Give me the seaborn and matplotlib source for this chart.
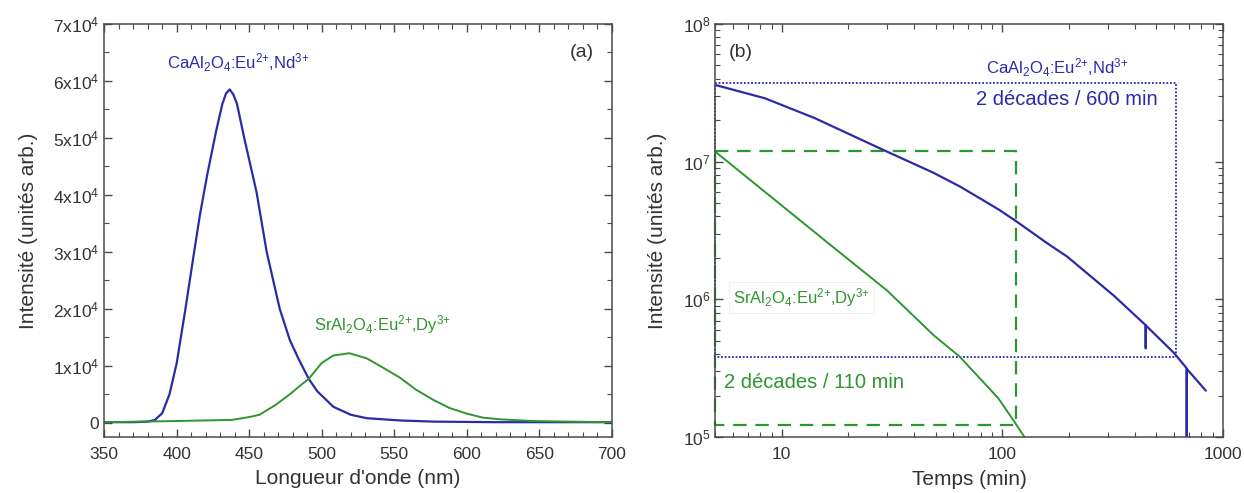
import numpy as np
import pandas as pd
import matplotlib
matplotlib.use("Agg")
import matplotlib.pyplot as plt
import matplotlib.ticker as mticker
import seaborn as sns

# (a) spectres d'émission
wl_ca = [350, 370, 380, 385, 390, 395, 400, 406, 412, 416, 421, 427, 431.5, 434, 436.5, 439, 441.5, 446.5,
         455, 462, 471, 478, 484, 491, 497, 508, 520, 531, 554, 577, 620, 700]
int_ca = [100, 100, 200, 500, 1700, 5000, 10500, 20000, 30000, 36500, 43500, 51000, 56000, 57800, 58500, 57600,
          56000, 50000, 40500, 30000, 20000, 14500, 11200, 7700, 5500, 2800, 1400, 800, 400, 200, 100, 100]
wl_sr = [350, 400, 438, 450, 457, 468, 479, 485, 491, 500, 508, 519, 531, 542, 554, 565,
         577, 588, 600, 611, 623, 646, 669, 700]
int_sr = [100, 300, 500, 1000, 1400, 3100, 5200, 6500, 7700, 10500, 11800, 12200, 11300, 9700, 7900, 5800,
          4000, 2600, 1600, 900, 600, 300, 200, 100]

# (b) déclins de phosphorescence
t_ca = [5, 8.4, 14.1, 28.4, 48.7, 64.4, 96, 115, 160, 197, 321, 446, 447, 448, 601, 685, 686, 687, 837]
dec_ca = [3.6e7, 2.88e7, 2.07e7, 1.23e7, 8.3e6, 6.58e6, 4.5e6, 3.71e6, 2.55e6, 2.04e6, 1.06e6, 6.5e5, 4.4e5,
          6.45e5, 4.07e5, 3.16e5, 5e4, 3.12e5, 2.17e5]
t_sr = [5, 10, 17.4, 30, 49, 64, 96, 115, 126, 130]
dec_sr = [1.18e7, 4.8e6, 2.34e6, 1.16e6, 5.46e5, 3.84e5, 1.91e5, 1.25e5, 1.0e5, 9e4]

# cadres "2 décades"
box_ca_t = [5, 611, 611, 5, 5]
box_ca_i = [3.7e7, 3.7e7, 3.84e5, 3.84e5, 3.7e7]
box_sr_t = [5, 115, 115, 5, 5]
box_sr_i = [1.2e7, 1.2e7, 1.22e5, 1.22e5, 1.2e7]

blue = "#2b2ba8"
green = "#2e962e"
lab_ca = r"CaAl$_2$O$_4$:Eu$^{2{+}}$,Nd$^{3{+}}$"
lab_sr = r"SrAl$_2$O$_4$:Eu$^{2{+}}$,Dy$^{3{+}}$"

sns.set_theme(style="ticks")
plt.rcParams["font.family"] = ["Liberation Sans", "DejaVu Sans"]
plt.rcParams["mathtext.fontset"] = "custom"
plt.rcParams["mathtext.rm"] = "Liberation Sans"
plt.rcParams["mathtext.it"] = "Liberation Sans:italic"
plt.rcParams["mathtext.default"] = "regular"
plt.rcParams["axes.edgecolor"] = "#4a4a4a"
plt.rcParams["axes.linewidth"] = 1.1

fig = plt.figure(figsize=(12.44, 4.93), dpi=100)
ax1 = fig.add_axes([0.0838, 0.1136, 0.408, 0.838])
ax2 = fig.add_axes([0.575, 0.1136, 0.408, 0.838])

df_ca = pd.DataFrame({"wl": wl_ca, "I": int_ca})
df_sr = pd.DataFrame({"wl": wl_sr, "I": int_sr})
sns.lineplot(data=df_ca, x="wl", y="I", color=blue, lw=1.6, sort=False, estimator=None, ax=ax1)
sns.lineplot(data=df_sr, x="wl", y="I", color=green, lw=1.4, sort=False, estimator=None, ax=ax1)
ax1.set_xlim(350, 700)
ax1.set_ylim(-2500, 70000)
ax1.xaxis.set_major_locator(mticker.MultipleLocator(50))
ax1.xaxis.set_minor_locator(mticker.MultipleLocator(10))
ax1.yaxis.set_major_locator(mticker.MultipleLocator(10000))
ax1.yaxis.set_minor_locator(mticker.MultipleLocator(5000))
ax1.yaxis.set_major_formatter(mticker.FuncFormatter(
    lambda v, p: "0" if abs(v) < 1 else f"{int(round(v / 1e4))}x10$^{{4}}$"))
ax1.set_xlabel("Longueur d'onde (nm)", fontsize=15, color="#333333", labelpad=5)
ax1.set_ylabel("Intensité (unités arb.)", fontsize=15, color="#333333", labelpad=11)
ax1.text(0.94, 0.93, "(a)", transform=ax1.transAxes, fontsize=14, ha="center", va="center", color="#333333")
ax1.text(0.264, 0.905, lab_ca, transform=ax1.transAxes, fontsize=12, ha="center", va="center", color=blue)
ax1.text(0.548, 0.271, lab_sr, transform=ax1.transAxes, fontsize=12, ha="center", va="center", color=green)

ax2.set_xscale("log")
ax2.set_yscale("log")
ax2.plot(box_ca_t, box_ca_i, color=blue, lw=1.3, ls=(0, (1, 1)), clip_on=False)
ax2.plot(box_sr_t, box_sr_i, color=green, lw=1.6, ls=(0, (6, 4)), clip_on=False)
df_tca = pd.DataFrame({"t": t_ca, "I": dec_ca})
df_tsr = pd.DataFrame({"t": t_sr, "I": dec_sr})
sns.lineplot(data=df_tca, x="t", y="I", color=blue, lw=1.6, sort=False, estimator=None, ax=ax2)
sns.lineplot(data=df_tsr, x="t", y="I", color=green, lw=1.4, sort=False, estimator=None, ax=ax2)
ax2.set_xlim(5, 1000)
ax2.set_ylim(1e5, 1e8)
ax2.xaxis.set_major_locator(mticker.FixedLocator([10, 100, 1000]))
ax2.xaxis.set_major_formatter(mticker.FixedFormatter(["10", "100", "1000"]))
ax2.xaxis.set_minor_locator(mticker.LogLocator(base=10, subs=np.arange(2, 10)))
ax2.xaxis.set_minor_formatter(mticker.NullFormatter())
ax2.yaxis.set_major_locator(mticker.LogLocator(base=10))
ax2.yaxis.set_minor_locator(mticker.LogLocator(base=10, subs=np.arange(2, 10)))
ax2.yaxis.set_minor_formatter(mticker.NullFormatter())
ax2.set_xlabel("Temps (min)", fontsize=15, color="#333333", labelpad=6)
ax2.set_ylabel("Intensité (unités arb.)", fontsize=15, color="#333333", labelpad=11)
ax2.text(0.05, 0.93, "(b)", transform=ax2.transAxes, fontsize=14, ha="center", va="center", color="#333333")
ax2.text(0.673, 0.893, lab_ca, transform=ax2.transAxes, fontsize=12, ha="center", va="center", color=blue)
ax2.text(0.692, 0.816, "2 décades / 600 min", transform=ax2.transAxes, fontsize=14.5,
         ha="center", va="center", color=blue)
ax2.text(0.17, 0.337, lab_sr, transform=ax2.transAxes, fontsize=12, ha="center", va="center", color=green,
         bbox=dict(facecolor="white", edgecolor="#eeeeee", lw=0.6, pad=3))
ax2.text(0.017, 0.131, "2 décades / 110 min", transform=ax2.transAxes, fontsize=14.5,
         ha="left", va="center", color=green)

for ax in (ax1, ax2):
    ax.tick_params(which="both", direction="in", top=True, right=True, colors="#4a4a4a",
                   labelcolor="#333333", labelsize=12.5)
    ax.tick_params(which="major", length=6, width=1)
    ax.tick_params(which="minor", length=3.5, width=0.8)
    ax.tick_params(axis="x", which="major", pad=7)

fig.savefig("out.png", dpi=100)
